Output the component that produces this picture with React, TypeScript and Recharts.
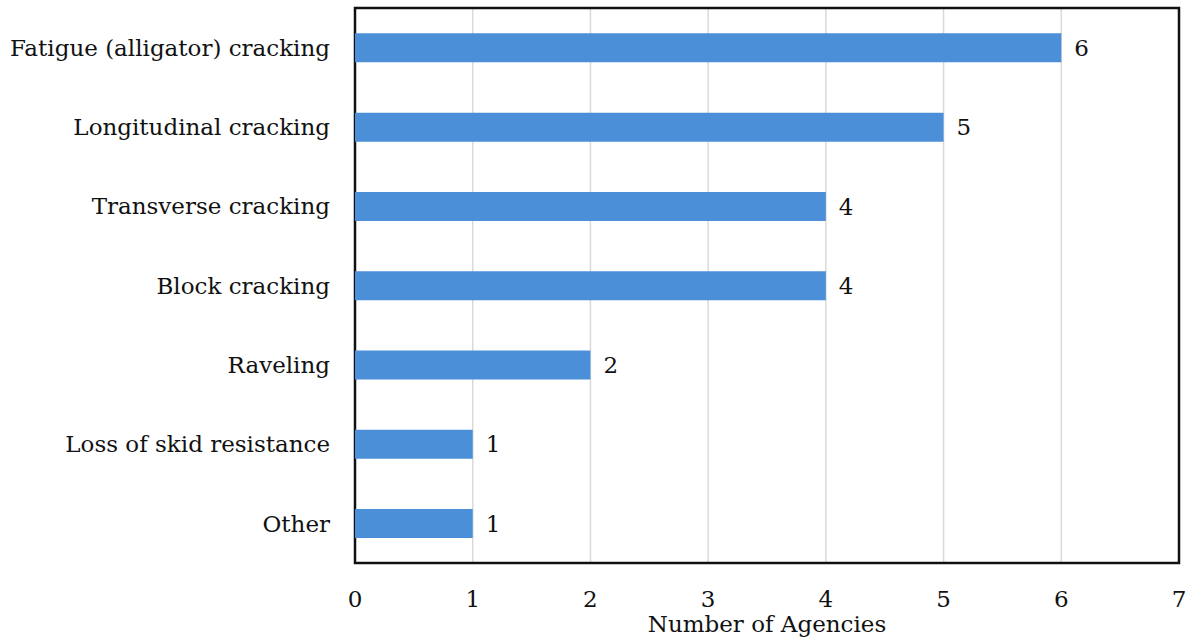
import React from 'react';
import { BarChart, Bar, XAxis, YAxis, CartesianGrid, LabelList, ReferenceArea, Label } from 'recharts';

const distresses = [
  'Fatigue (alligator) cracking',
  'Longitudinal cracking',
  'Transverse cracking',
  'Block cracking',
  'Raveling',
  'Loss of skid resistance',
  'Other',
];
const agencyCounts = [6, 5, 4, 4, 2, 1, 1];
const xTicks = [0, 1, 2, 3, 4, 5, 6, 7];

const data = distresses.map((name, i) => ({ name, count: agencyCounts[i] }));

const font = '"DejaVu Serif", serif';
const textStyle = { fontFamily: font, fontSize: 23, fill: '#111' };

export default function App() {
  return (
    <div style={{ position: 'absolute', left: 0, top: 0, background: '#fff' }}>
      <BarChart
        width={1189}
        height={637}
        data={data}
        layout="vertical"
        margin={{ top: 8, right: 10, left: 0, bottom: 0 }}
        barCategoryGap="32%"
      >
        <CartesianGrid horizontal={false} stroke="#d9d9d9" strokeWidth={1.5} />
        <XAxis
          type="number"
          domain={[0, 7]}
          ticks={xTicks}
          height={74}
          tickSize={0}
          tickMargin={28}
          axisLine={false}
          tick={textStyle}
          interval={0}
        >
          <Label value="Number of Agencies" position="insideBottom" offset={5} style={textStyle} />
        </XAxis>
        <YAxis
          type="category"
          dataKey="name"
          width={355}
          tickSize={0}
          tickMargin={25}
          axisLine={false}
          tick={textStyle}
          interval={0}
        />
        <ReferenceArea x1={0} x2={7} fill="none" stroke="#111" strokeWidth={2.5} ifOverflow="visible" />
        <Bar dataKey="count" fill="#4a8fd8" isAnimationActive={false}>
          <LabelList dataKey="count" position="right" offset={13} style={textStyle} />
        </Bar>
      </BarChart>
    </div>
  );
}
